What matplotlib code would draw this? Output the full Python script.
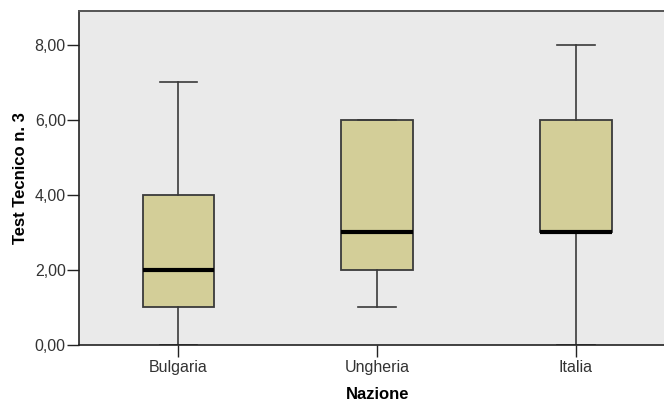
import matplotlib
matplotlib.use("Agg")
import matplotlib.pyplot as plt

# Five-number summaries per country
nazioni = ["Bulgaria", "Ungheria", "Italia"]
minimi = [0, 1, 0]
primo_quartile = [1, 2, 3]
mediane = [2, 3, 3]
terzo_quartile = [4, 6, 6]
massimi = [7, 6, 8]
y_ticks = [0, 2, 4, 6, 8]
y_tick_labels = ["0,00", "2,00", "4,00", "6,00", "8,00"]

plt.rcParams["font.family"] = ["Liberation Sans", "DejaVu Sans"]

fig = plt.figure(figsize=(6.64, 4.03), dpi=100)
ax = fig.add_axes([79 / 664, 58 / 403, 1 - 79 / 664, (345 - 11) / 403])
ax.set_facecolor("#EAEAEA")

stats = []
for name, lo, q1, med, q3, hi in zip(nazioni, minimi, primo_quartile, mediane,
                                      terzo_quartile, massimi):
    stats.append(dict(label=name, whislo=lo, q1=q1, med=med, q3=q3, whishi=hi,
                      fliers=[]))

edge = "#3A3A3A"
ax.bxp(stats, positions=range(len(nazioni)), widths=0.36, patch_artist=True,
       showfliers=False,
       boxprops=dict(facecolor="#D3CE98", edgecolor=edge, linewidth=1.3),
       medianprops=dict(color="black", linewidth=3.0, solid_capstyle="butt"),
       whiskerprops=dict(color=edge, linewidth=1.2),
       capprops=dict(color=edge, linewidth=1.2),
       capwidths=0.19)

ax.set_xlim(-0.5, 2 + (664 - 576) / 198.8)
ax.set_ylim(0, 8.9)
ax.set_yticks(y_ticks)
ax.set_yticklabels(y_tick_labels)
ax.set_xticks(range(len(nazioni)))
ax.set_xticklabels(nazioni)

ax.tick_params(axis="both", direction="out", length=8.5, width=1.0,
               color="#222222", labelsize=11.5, labelcolor="#333333")
ax.tick_params(axis="x", pad=2)
ax.tick_params(axis="y", pad=1)

for side in ["left", "bottom"]:
    ax.spines[side].set_color("#222222")
    ax.spines[side].set_linewidth(1.2)
ax.spines["top"].set_color("#555555")
ax.spines["top"].set_linewidth(1.4)
ax.spines["right"].set_visible(False)

ax.set_ylabel("Test Tecnico n. 3", fontsize=12, fontweight="bold", labelpad=5)
ax.text(1, -0.125, "Nazione", transform=ax.get_xaxis_transform(),
        ha="center", va="top", fontsize=12, fontweight="bold")

fig.savefig("out.png", dpi=100)
